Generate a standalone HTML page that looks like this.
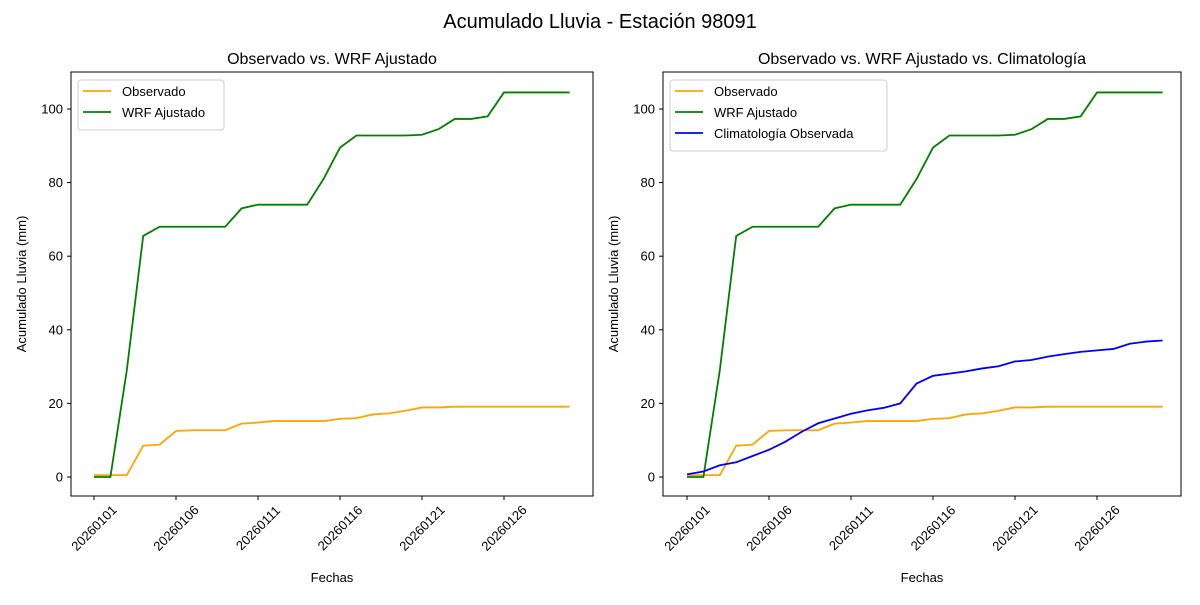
<!DOCTYPE html>
<html><head><meta charset="utf-8"><style>
body{margin:0;background:#fff;}
svg{font-family:"Liberation Sans","DejaVu Sans",sans-serif;}
</style></head><body>
<svg id="s" width="1200" height="600" xmlns="http://www.w3.org/2000/svg"></svg>
<script>
const obs=[0.5,0.5,0.5,8.5,8.8,12.5,12.7,12.7,12.7,14.5,14.8,15.2,15.2,15.2,15.2,15.8,16,17,17.3,18,18.9,18.9,19.1,19.1,19.1,19.1,19.1,19.1,19.1,19.1];
const wrf=[0,0,29,65.5,68,68,68,68,68,73,74,74,74,74,81,89.5,92.8,92.8,92.8,92.8,93,94.5,97.3,97.3,98,104.5,104.5,104.5,104.5,104.5];
const cli=[0.7,1.5,3.2,4,5.7,7.4,9.6,12.3,14.6,15.9,17.2,18.1,18.8,20,25.4,27.5,28.1,28.7,29.5,30.1,31.4,31.8,32.7,33.4,34,34.4,34.8,36.2,36.8,37.1];
let h='<text x="600" y="28" font-size="20" text-anchor="middle">Acumulado Lluvia - Estación 98091</text>';
function panel(x0,x1,d0,title,series,leg){
  const Y=v=>477-v*3.68, X=i=>d0+i*16.4;
  h+=`<text x="${(x0+x1)/2}" y="64" font-size="16" text-anchor="middle">${title}</text>`;
  for(let v=0;v<=100;v+=20){h+=`<line x1="${x0-4}" x2="${x0}" y1="${Y(v)}" y2="${Y(v)}" stroke="#000"/><text x="${x0-8}" y="${Y(v)+4.5}" font-size="13" text-anchor="end">${v}</text>`;}
  const labs=['20260101','20260106','20260111','20260116','20260121','20260126'];
  labs.forEach((l,k)=>{const x=X(k*5);h+=`<line x1="${x}" x2="${x}" y1="496" y2="500" stroke="#000"/><text transform="translate(${x},528) rotate(-45)" font-size="13" text-anchor="middle" dy="4.5">${l}</text>`;});
  series.forEach(([d,c])=>{h+=`<polyline fill="none" stroke="${c}" stroke-width="1.8" points="${d.map((v,i)=>X(i)+','+Y(v)).join(' ')}"/>`;});
  h+=`<rect x="${x0}" y="72" width="${x1-x0}" height="424" fill="none" stroke="#000"/>`;
  h+=`<text x="${(x0+x1)/2}" y="582" font-size="13" text-anchor="middle">Fechas</text>`;
  h+=`<text transform="translate(${x0-45},284) rotate(-90)" font-size="13" text-anchor="middle">Acumulado Lluvia (mm)</text>`;
  const w=leg.w, lh=21;
  h+=`<rect x="${x0+7}" y="80" width="${w}" height="${8+lh*series.length}" rx="3" fill="#fff" stroke="#ccc"/>`;
  series.forEach(([d,c],k)=>{const y=91+k*lh;h+=`<line x1="${x0+12}" x2="${x0+40}" y1="${y}" y2="${y}" stroke="${c}" stroke-width="1.8"/><text x="${x0+51}" y="${y+5}" font-size="13">${leg.n[k]}</text>`;});
}
panel(71,593,94,'Observado vs. WRF Ajustado',[[obs,'orange'],[wrf,'green']],{w:146,n:['Observado','WRF Ajustado']});
panel(663,1181,687,'Observado vs. WRF Ajustado vs. Climatología',[[obs,'orange'],[wrf,'green'],[cli,'blue']],{w:217,n:['Observado','WRF Ajustado','Climatología Observada']});
document.getElementById('s').innerHTML=h;
</script>
</body></html>
